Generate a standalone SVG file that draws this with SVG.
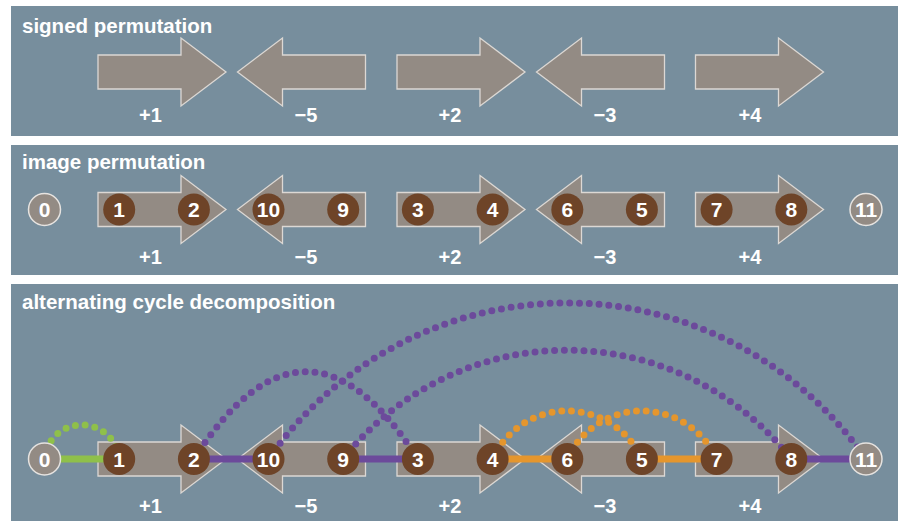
<svg xmlns="http://www.w3.org/2000/svg" xmlns:xlink="http://www.w3.org/1999/xlink" width="901" height="523" viewBox="0 0 901 523">
  <style>
    .panel { fill: #778e9d; }
    .title { font-family: "Liberation Sans", Arial, sans-serif; font-weight: bold; font-size: 20.5px; fill: #ffffff; }
    .sign { font-family: "Liberation Sans", Arial, sans-serif; font-weight: bold; font-size: 20px; fill: #ffffff; text-anchor: middle; }
    .num { font-family: "Liberation Sans", Arial, sans-serif; font-weight: bold; font-size: 21px; fill: #ffffff; text-anchor: middle; }
    .arrow { fill: #938b84; stroke: #dcd8d4; stroke-width: 1.3; }
    .gene { fill: #6e4428; }
    .cap { fill: #938b84; stroke: #e6e3e0; stroke-width: 1.5; }
    .black { fill: none; stroke-width: 6.8; }
    .gray { fill: none; stroke-width: 7; stroke-linecap: round; stroke-dasharray: 0 9.8; }
    .green { stroke: #8fc04a; }
    .purple { stroke: #6c4a9b; }
    .orange { stroke: #e5962d; }
  </style>
  <defs>
    <!-- right-pointing block arrow, left end at x=0, axis at y=0 -->
    <path id="arrowR" class="arrow" d="M0,-17 H83 V-34 L128,0 L83,34 V17 H0 Z"/>
    <!-- left-pointing block arrow, tip at x=0, axis at y=0 -->
    <path id="arrowL" class="arrow" d="M0,0 L45,-34 V-17 H128 V17 H45 V34 Z"/>
  </defs>

  <rect width="901" height="523" fill="#ffffff"/>

  <!-- panel 1: signed permutation -->
  <g id="panel-signed">
    <rect class="panel" x="11" y="6" width="887" height="130"/>
    <text class="title" x="22" y="33">signed permutation</text>
    <use xlink:href="#arrowR" x="98" y="72"/>
    <use xlink:href="#arrowL" x="237.5" y="72"/>
    <use xlink:href="#arrowR" x="397" y="72"/>
    <use xlink:href="#arrowL" x="536.5" y="72"/>
    <use xlink:href="#arrowR" x="695.5" y="72"/>
    <text class="sign" x="150.5" y="122">+1</text>
    <text class="sign" x="306" y="122">−5</text>
    <text class="sign" x="450" y="122">+2</text>
    <text class="sign" x="605" y="122">−3</text>
    <text class="sign" x="750" y="122">+4</text>
  </g>

  <!-- panel 2: image permutation -->
  <g id="panel-image">
    <rect class="panel" x="11" y="145" width="887" height="130"/>
    <text class="title" x="22" y="168.5">image permutation</text>
    <use xlink:href="#arrowR" x="98" y="209.5"/>
    <use xlink:href="#arrowL" x="237.5" y="209.5"/>
    <use xlink:href="#arrowR" x="397" y="209.5"/>
    <use xlink:href="#arrowL" x="536.5" y="209.5"/>
    <use xlink:href="#arrowR" x="695.5" y="209.5"/>
    <text class="sign" x="150.5" y="264">+1</text>
    <text class="sign" x="306" y="264">−5</text>
    <text class="sign" x="450" y="264">+2</text>
    <text class="sign" x="605" y="264">−3</text>
    <text class="sign" x="750" y="264">+4</text>
  </g>
  <g id="image-nodes">
    <g id="img-n0"><circle class="cap" cx="44.5" cy="209.5" r="16"/><text class="num" x="44.5" y="217">0</text></g>
    <g id="img-n1"><circle class="gene" cx="119.2" cy="209.5" r="16"/><text class="num" x="119.2" y="217">1</text></g>
    <g id="img-n2"><circle class="gene" cx="193.9" cy="209.5" r="16"/><text class="num" x="193.9" y="217">2</text></g>
    <g id="img-n10"><circle class="gene" cx="268.5" cy="209.5" r="16"/><text class="num" x="268.5" y="217">10</text></g>
    <g id="img-n9"><circle class="gene" cx="343.2" cy="209.5" r="16"/><text class="num" x="343.2" y="217">9</text></g>
    <g id="img-n3"><circle class="gene" cx="417.9" cy="209.5" r="16"/><text class="num" x="417.9" y="217">3</text></g>
    <g id="img-n4"><circle class="gene" cx="492.6" cy="209.5" r="16"/><text class="num" x="492.6" y="217">4</text></g>
    <g id="img-n6"><circle class="gene" cx="567.3" cy="209.5" r="16"/><text class="num" x="567.3" y="217">6</text></g>
    <g id="img-n5"><circle class="gene" cx="641.9" cy="209.5" r="16"/><text class="num" x="641.9" y="217">5</text></g>
    <g id="img-n7"><circle class="gene" cx="716.6" cy="209.5" r="16"/><text class="num" x="716.6" y="217">7</text></g>
    <g id="img-n8"><circle class="gene" cx="791.3" cy="209.5" r="16"/><text class="num" x="791.3" y="217">8</text></g>
    <g id="img-n11"><circle class="cap" cx="866" cy="209.5" r="16"/><text class="num" x="866" y="217">11</text></g>
  </g>

  <!-- panel 3: alternating cycle decomposition -->
  <g id="panel-cycles">
    <rect class="panel" x="11" y="284" width="887" height="237"/>
    <text class="title" x="22" y="309">alternating cycle decomposition</text>
    <use xlink:href="#arrowR" x="98" y="459"/>
    <use xlink:href="#arrowL" x="237.5" y="459"/>
    <use xlink:href="#arrowR" x="397" y="459"/>
    <use xlink:href="#arrowL" x="536.5" y="459"/>
    <use xlink:href="#arrowR" x="695.5" y="459"/>
    <text class="sign" x="150.5" y="512.5">+1</text>
    <text class="sign" x="306" y="512.5">−5</text>
    <text class="sign" x="450" y="512.5">+2</text>
    <text class="sign" x="605" y="512.5">−3</text>
    <text class="sign" x="750" y="512.5">+4</text>
  </g>

  <!-- black edges (solid) and gray edges (dotted arcs) -->
  <g id="connectors">
    <path class="black green" d="M44.5,459 H119.2"/>
    <path class="black purple" d="M193.9,459 H268.5"/>
    <path class="black purple" d="M343.2,459 H417.9"/>
    <path class="black orange" d="M492.6,459 H567.3"/>
    <path class="black orange" d="M641.9,459 H716.6"/>
    <path class="black purple" d="M791.3,459 H866"/>

    <path class="gray green" d="M44.5,459 A37.5,37.5 0 0 1 119.2,459"/>
    <path class="gray purple" d="M193.9,459 Q305.9,284.4 417.9,459"/>
    <path class="gray purple" d="M268.5,459 A364,364 0 0 1 866,459"/>
    <path class="gray purple" d="M343.2,459 A285,285 0 0 1 791.3,459"/>
    <path class="gray orange" d="M492.6,459 A82,82 0 0 1 641.9,459"/>
    <path class="gray orange" d="M567.3,459 A82,82 0 0 1 716.6,459"/>
  </g>

  <g id="cycle-nodes">
    <g id="n0"><circle class="cap" cx="44.5" cy="459" r="16"/><text class="num" x="44.5" y="466.5">0</text></g>
    <g id="n1"><circle class="gene" cx="119.2" cy="459" r="16"/><text class="num" x="119.2" y="466.5">1</text></g>
    <g id="n2"><circle class="gene" cx="193.9" cy="459" r="16"/><text class="num" x="193.9" y="466.5">2</text></g>
    <g id="n10"><circle class="gene" cx="268.5" cy="459" r="16"/><text class="num" x="268.5" y="466.5">10</text></g>
    <g id="n9"><circle class="gene" cx="343.2" cy="459" r="16"/><text class="num" x="343.2" y="466.5">9</text></g>
    <g id="n3"><circle class="gene" cx="417.9" cy="459" r="16"/><text class="num" x="417.9" y="466.5">3</text></g>
    <g id="n4"><circle class="gene" cx="492.6" cy="459" r="16"/><text class="num" x="492.6" y="466.5">4</text></g>
    <g id="n6"><circle class="gene" cx="567.3" cy="459" r="16"/><text class="num" x="567.3" y="466.5">6</text></g>
    <g id="n5"><circle class="gene" cx="641.9" cy="459" r="16"/><text class="num" x="641.9" y="466.5">5</text></g>
    <g id="n7"><circle class="gene" cx="716.6" cy="459" r="16"/><text class="num" x="716.6" y="466.5">7</text></g>
    <g id="n8"><circle class="gene" cx="791.3" cy="459" r="16"/><text class="num" x="791.3" y="466.5">8</text></g>
    <g id="n11"><circle class="cap" cx="866" cy="459" r="16"/><text class="num" x="866" y="466.5">11</text></g>
  </g>
</svg>
